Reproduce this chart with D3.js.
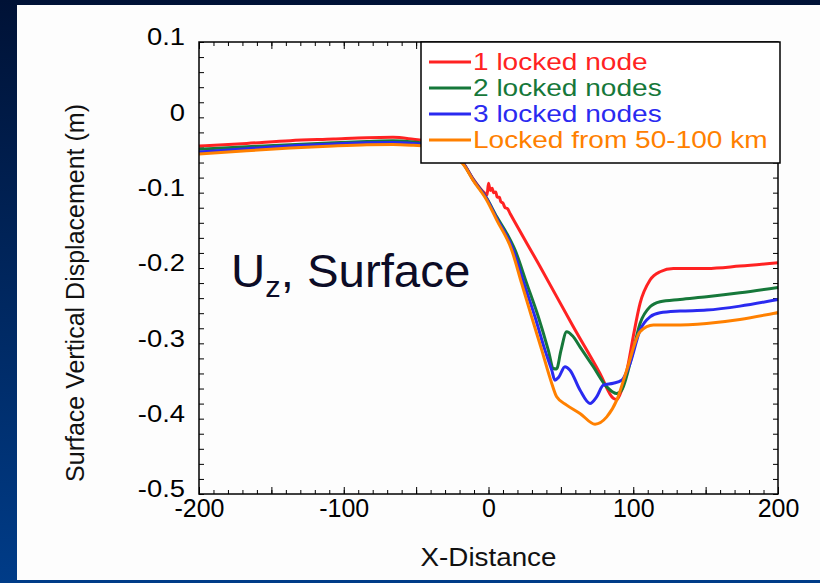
<!DOCTYPE html>
<html>
<head>
<meta charset="utf-8">
<script src="https://cdn.jsdelivr.net/npm/d3@7"></script>
<style>
  html, body { margin: 0; padding: 0; background: #001a4a; }
  svg { display: block; font-family: "Liberation Sans", Arial, sans-serif; }
</style>
</head>
<body>
<svg id="chart"></svg>
<script>
// 1: DATA - [x distance, vertical displacement]
const seriesNames = ["1 locked node", "2 locked nodes", "3 locked nodes", "Locked from 50-100 km"];
const seriesColors = ["#ff2222", "#16783a", "#2a2af0", "#ff8000"];

const oneNode = [
    [-200, -0.038], [-167, -0.0346], [-137, -0.031], [-107, -0.0288], [-84, -0.027], [-66, -0.0266],
    [-52, -0.029], [-40, -0.032], [-30, -0.038], [-24, -0.047], [-17.6, -0.06], [-10.5, -0.082],
    [-3, -0.1], [-1, -0.103], [0, -0.0876], [1.2, -0.097], [2.5, -0.094], [3.5, -0.1], [5, -0.099],
    [6, -0.106], [7.5, -0.106], [8.5, -0.112], [10, -0.114], [11.5, -0.12], [13, -0.121], [15, -0.128],
    [35.6, -0.198], [58.6, -0.278], [77, -0.34], [86.2, -0.373], [88.6, -0.3745], [92, -0.362],
    [96.6, -0.3267], [100, -0.291], [104.7, -0.247], [111.6, -0.216], [118.5, -0.205],
    [127.7, -0.2006], [150.7, -0.2006], [173.7, -0.1975], [200, -0.193]
];
const twoNodes = [
    [-200, -0.0425], [-167, -0.039], [-137, -0.0364], [-107, -0.0337], [-84, -0.032], [-66, -0.031],
    [-52, -0.0328], [-40, -0.036], [-30, -0.042], [-24, -0.05], [-17.6, -0.061], [-10.5, -0.083],
    [-1.2, -0.1076], [5.7, -0.132], [12.6, -0.154], [18.3, -0.176], [26.4, -0.2205], [34.4, -0.2648],
    [41.3, -0.309], [44.8, -0.3334], [47, -0.334], [50, -0.31], [54, -0.2847], [58, -0.29],
    [63.2, -0.3046], [72.4, -0.331], [81.7, -0.3578], [88.6, -0.3666], [92, -0.362], [98.9, -0.318],
    [104.7, -0.2736], [111.6, -0.2515], [118.5, -0.2449], [132.3, -0.2417], [150.7, -0.2382],
    [173.7, -0.233], [200, -0.2258]
];
const threeNodes = [
    [-200, -0.046], [-167, -0.0417], [-137, -0.038], [-107, -0.0355], [-84, -0.0337], [-66, -0.0333],
    [-52, -0.0346], [-40, -0.037], [-30, -0.043], [-24, -0.051], [-17.6, -0.061], [-10.5, -0.083],
    [-1.2, -0.108], [5.7, -0.1342], [17.1, -0.176], [24.5, -0.2205], [32.1, -0.2648], [39, -0.309],
    [43.7, -0.3356], [45.9, -0.3489], [48.5, -0.345], [52.8, -0.331], [56.3, -0.3356], [63.2, -0.362],
    [70.1, -0.3798], [74.7, -0.371], [79.3, -0.3555], [86.2, -0.353], [92, -0.349], [97.8, -0.3267],
    [104.7, -0.2825], [111.6, -0.2648], [118.5, -0.2595], [132.3, -0.2572], [150.7, -0.2559],
    [173.7, -0.2506], [200, -0.2417]
];
const lockedFifty = [
    [-200, -0.0487], [-167, -0.0443], [-137, -0.0408], [-107, -0.038], [-84, -0.0364], [-66, -0.036],
    [-52, -0.0372], [-40, -0.039], [-30, -0.044], [-24, -0.052], [-17.6, -0.062], [-10.5, -0.084],
    [-1.2, -0.11], [5.7, -0.1364], [16, -0.176], [22.9, -0.2205], [29.8, -0.2648], [36.8, -0.309],
    [43.7, -0.3533], [47.1, -0.371], [54, -0.382], [63.2, -0.393], [73.6, -0.4073], [81.7, -0.3976],
    [88.6, -0.3754], [95.5, -0.3356], [104.7, -0.2847], [113.9, -0.2758], [127.7, -0.2758],
    [150.7, -0.2736], [173.7, -0.2683], [200, -0.259]
];
const allSeries = [oneNode, twoNodes, threeNodes, lockedFifty];

const xTicks = [-200, -100, 0, 100, 200];
const xTickLabels = ["-200", "-100", "0", "100", "200"];
const yTicks = [0.1, 0, -0.1, -0.2, -0.3, -0.4, -0.5];
const yTickLabels = ["0.1", "0", "-0.1", "-0.2", "-0.3", "-0.4", "-0.5"];

// 2: SIZES
const W = 820, H = 583;
const plot = { left: 199, right: 778, top: 42, bottom: 494 };

const svg = d3.select("#chart").attr("width", W).attr("height", H);

// slide background + white panel
const defs = svg.append("defs");
const grad = defs.append("linearGradient").attr("id", "bg").attr("x1", 0).attr("y1", 0).attr("x2", 0).attr("y2", 1);
grad.append("stop").attr("offset", "0%").attr("stop-color", "#001236");
grad.append("stop").attr("offset", "100%").attr("stop-color", "#003c88");
svg.append("rect").attr("width", W).attr("height", H).attr("fill", "url(#bg)");
svg.append("rect").attr("x", 17).attr("y", 5).attr("width", W - 17).attr("height", 575).attr("fill", "#fdfdfd");

// 3: SCALES
const x = d3.scaleLinear().domain([-200, 200]).range([plot.left, plot.right]);
const y = d3.scaleLinear().domain([-0.5, 0.1]).range([plot.bottom, plot.top]);

// 4: TICKS (all pointing inside)
const xMinor = d3.range(-200, 201, 10);
const xMid = d3.range(-200, 201, 50);
const yMinor = d3.range(-25, 6).map(i => i * 0.02);

function styleTicks(g) {
    g.select(".domain").remove();
    g.selectAll("line").attr("stroke", "#000").attr("stroke-width", 1);
}

svg.append("g").attr("transform", `translate(0,${plot.bottom})`)
    .call(d3.axisBottom(x).tickValues(xMinor).tickSize(-4).tickFormat("")).call(styleTicks);
svg.append("g").attr("transform", `translate(0,${plot.bottom})`)
    .call(d3.axisBottom(x).tickValues(xMid).tickSize(-7).tickFormat("")).call(styleTicks);
svg.append("g").attr("transform", `translate(0,${plot.top})`)
    .call(d3.axisTop(x).tickValues(xMinor).tickSize(-4).tickFormat("")).call(styleTicks);
svg.append("g").attr("transform", `translate(0,${plot.top})`)
    .call(d3.axisTop(x).tickValues(xMid).tickSize(-7).tickFormat("")).call(styleTicks);
svg.append("g").attr("transform", `translate(${plot.left},0)`)
    .call(d3.axisLeft(y).tickValues(yMinor).tickSize(-5).tickFormat("")).call(styleTicks);
svg.append("g").attr("transform", `translate(${plot.right},0)`)
    .call(d3.axisRight(y).tickValues(yMinor).tickSize(-5).tickFormat("")).call(styleTicks);

// tick labels
const xAxis = svg.append("g").attr("transform", `translate(0,${plot.bottom})`)
    .call(d3.axisBottom(x).tickValues(xTicks).tickSize(0).tickPadding(5)
        .tickFormat((d, i) => xTickLabels[i]));
xAxis.select(".domain").remove();
xAxis.selectAll("text").attr("font-size", 25).attr("fill", "#000")
    .attr("font-family", "'Liberation Sans', Arial, sans-serif");

const yAxis = svg.append("g").attr("transform", `translate(${plot.left},0)`)
    .call(d3.axisLeft(y).tickValues(yTicks).tickSize(0)
        .tickFormat((d, i) => yTickLabels[i]));
yAxis.select(".domain").remove();
yAxis.selectAll("text").attr("font-size", 24).attr("fill", "#000").attr("dy", "0.12em")
    .attr("x", 0).attr("transform", "translate(-14,0) scale(1.14,1)")
    .attr("font-family", "'Liberation Sans', Arial, sans-serif");

// 5: LINES
const line = d3.line().x(d => x(d[0])).y(d => y(d[1])).curve(d3.curveMonotoneX);

svg.append("g").selectAll("path")
    .data(allSeries)
    .join("path")
    .attr("fill", "none")
    .attr("stroke", (d, i) => seriesColors[i])
    .attr("stroke-width", 3)
    .attr("stroke-linejoin", "round")
    .attr("d", line);

// frame
svg.append("rect")
    .attr("x", plot.left).attr("y", plot.top)
    .attr("width", plot.right - plot.left).attr("height", plot.bottom - plot.top)
    .attr("fill", "none").attr("stroke", "#000").attr("stroke-width", 1.5);

// 6: LEGEND
const legend = svg.append("g").attr("transform", "translate(421,42)");
legend.append("rect").attr("width", 359).attr("height", 121)
    .attr("fill", "#fff").attr("stroke", "#000").attr("stroke-width", 1.5);
const rows = legend.selectAll("g.row").data(seriesNames).join("g")
    .attr("class", "row")
    .attr("transform", (d, i) => `translate(0,${20 + i * 26})`);
rows.append("line").attr("x1", 8).attr("x2", 50)
    .attr("stroke", (d, i) => seriesColors[i]).attr("stroke-width", 3);
rows.append("text").attr("dy", "0.36em")
    .attr("transform", "translate(52,0) scale(1.22,1)")
    .attr("font-size", 23)
    .attr("fill", (d, i) => seriesColors[i])
    .text(d => d);

// 7: TITLES
svg.append("text")
    .attr("transform", `translate(${(plot.left + plot.right) / 2},566) scale(1.07,1)`)
    .attr("text-anchor", "middle").attr("font-size", 26).attr("fill", "#111")
    .text("X-Distance");

svg.append("text")
    .attr("transform", "translate(84,293) rotate(-90)")
    .attr("text-anchor", "middle").attr("font-size", 25).attr("fill", "#111")
    .text("Surface Vertical Displacement (m)");

const note = svg.append("text").attr("transform", "translate(231,287) scale(1.03,1)")
    .attr("font-size", 46).attr("fill", "#0c0c26");
note.append("tspan").text("U");
note.append("tspan").attr("font-size", 30).attr("dy", 10).text("z");
note.append("tspan").attr("dy", -10).text(", Surface");
</script>
</body>
</html>
